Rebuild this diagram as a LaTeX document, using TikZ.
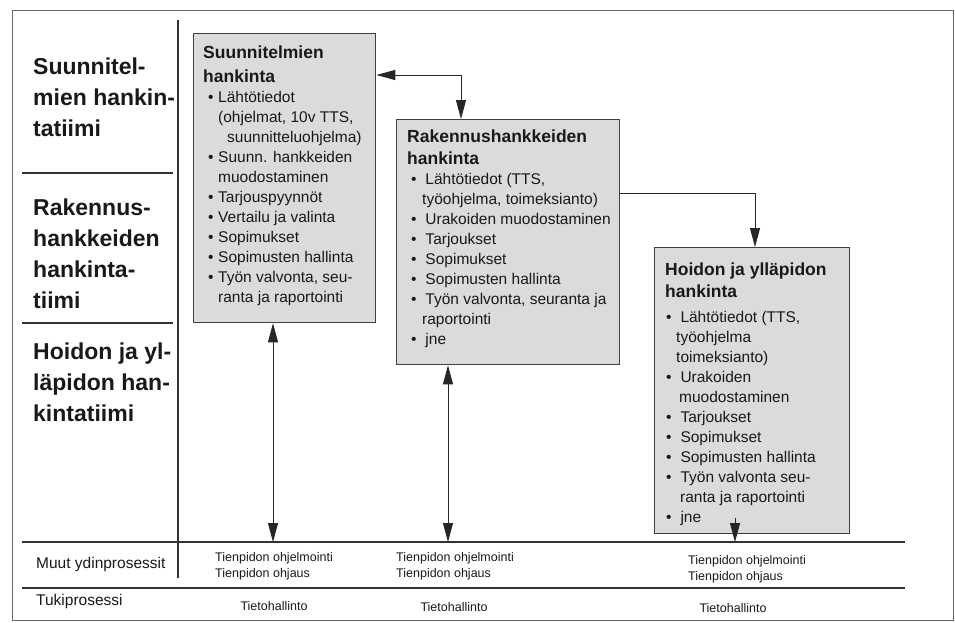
\documentclass[tikz,border=0pt]{standalone}
\usepackage{fontspec}
\setmainfont{Liberation Sans}
\usetikzlibrary{arrows.meta}

\newcommand{\vo}[1][5pt]{\hspace*{#1}\makebox[10pt][l]{\textbullet}}
\newcommand{\cont}[1][15pt]{\hspace*{#1}}
\newcommand{\tit}[1]{{\bfseries\fontsize{17.5}{20}\selectfont #1}}

\tikzset{
    riquadro/.style={draw=black!75, line width=1.3pt, fill=black!14, inner sep=0pt, anchor=north west},
    testo/.style={anchor=north west, inner sep=0pt, align=left, text=black!90, font=\fontsize{15.5}{20}\selectfont},
    tiimi/.style={anchor=north west, inner sep=0pt, align=left, text=black!90, font=\bfseries\fontsize{23}{31}\selectfont},
    proc/.style={anchor=west, inner sep=0pt, align=left, text=black!90, font=\fontsize{12.5}{16}\selectfont},
    linea/.style={draw=black!80, line width=1.2pt},
    freccia/.style={draw=black!85, line width=0.9pt},
    punta/.tip={Triangle[length=19pt,width=10pt]}
}

\begin{document}
\begin{tikzpicture}[x=1pt, y=-1pt]
    \useasboundingbox (0,0) rectangle (955,622);

    % Cornice e linee
    \draw[black!60, line width=0.8pt] (12,10) rectangle (953,620);
    \draw[linea] (178,20) -- (178,578);
    \draw[linea] (22,173) -- (173,173);
    \draw[linea] (22,323) -- (173,323);
    \draw[linea] (22,542) -- (905,542);
    \draw[linea] (22,588) -- (905,588);

    % Tiimit
    \node[tiimi] (suunn) at (33,58) {Suunnitel-\\mien hankin-\\tatiimi};
    \node[tiimi] (rak) at (33,199) {Rakennus-\\hankkeiden\\hankinta-\\tiimi};
    \node[tiimi] (hoi) at (33,343) {Hoidon ja yl-\\läpidon han-\\kintatiimi};

    % Riquadri
    \node[riquadro, minimum width=182pt, minimum height=289pt] (piani) at (193,33) {};
    \node[riquadro, minimum width=223pt, minimum height=245pt] (rakennus) at (396,119) {};
    \node[riquadro, minimum width=195pt, minimum height=286pt] (hoito) at (654,247) {};

    \node[testo] (pianitxt) at (203,46) {\tit{Suunnitelmien}\\[4pt]\tit{hankinta}\\
        \vo Lähtötiedot\\
        \cont(ohjelmat, 10v TTS,\\
        \cont[24pt]suunnitteluohjelma)\\
        \vo Suunn. hankkeiden\\
        \cont muodostaminen\\
        \vo Tarjouspyynnöt\\
        \vo Vertailu ja valinta\\
        \vo Sopimukset\\
        \vo Sopimusten hallinta\\
        \vo Työn valvonta, seu-\\
        \cont ranta ja raportointi};
    \node[testo] (rakennustxt) at (407,130) {\tit{Rakennushankkeiden}\\[2pt]\tit{hankinta}\\
        \vo[4pt] Lähtötiedot (TTS,\\
        \cont työohjelma, toimeksianto)\\
        \vo[4pt] Urakoiden muodostaminen\\
        \vo[4pt] Tarjoukset\\
        \vo[4pt] Sopimukset\\
        \vo[4pt] Sopimusten hallinta\\
        \vo[4pt] Työn valvonta, seuranta ja\\
        \cont raportointi\\
        \vo[4pt] jne};
    \node[testo] (hoitotxt) at (665,263) {\tit{Hoidon ja ylläpidon}\\[2pt]\tit{hankinta}\\[4.5pt]
        \vo[1pt] Lähtötiedot (TTS,\\
        \cont[11pt]työohjelma\\
        \cont[11pt]toimeksianto)\\
        \vo[1pt] Urakoiden\\
        \cont[14pt]muodostaminen\\
        \vo[1pt] Tarjoukset\\
        \vo[1pt] Sopimukset\\
        \vo[1pt] Sopimusten hallinta\\
        \vo[1pt] Työn valvonta seu-\\
        \cont ranta ja raportointi\\
        \vo[1pt] jne};

    % Prosessit
    \node[proc, font=\fontsize{15.5}{18}\selectfont] (muut) at (36,564) {Muut ydinprosessit};
    \node[proc, font=\fontsize{15.5}{18}\selectfont] (tuki) at (36,601) {Tukiprosessi};
    \node[proc] (ohj1) at (215,566) {Tienpidon ohjelmointi\\Tienpidon ohjaus};
    \node[proc] (ohj2) at (396,566) {Tienpidon ohjelmointi\\Tienpidon ohjaus};
    \node[proc] (ohj3) at (688,569) {Tienpidon ohjelmointi\\Tienpidon ohjaus};
    \node[proc, anchor=center] (tieto1) at (274,606) {Tietohallinto};
    \node[proc, anchor=center] (tieto2) at (454,607) {Tietohallinto};
    \node[proc, anchor=center] (tieto3) at (733,608) {Tietohallinto};

    % Frecce
    \coordinate (a1) at (273,542);
    \coordinate (a2) at (448,542);
    \coordinate (a3) at (735,542);
    \coordinate (a3s) at (735,518);
    \draw[freccia, punta-punta] (piani.east |- 0,75) -| (rakennus.north -| 461,0);
    \draw[freccia, -punta] (rakennus.east |- 0,193) -| (hoito.north -| 755,0);
    \draw[freccia, punta-punta] (a1 |- piani.south) -- (a1);
    \draw[freccia, punta-punta] (a2 |- rakennus.south) -- (a2);
    \draw[freccia, -punta] (a3s) -- (a3);
\end{tikzpicture}
\end{document}
